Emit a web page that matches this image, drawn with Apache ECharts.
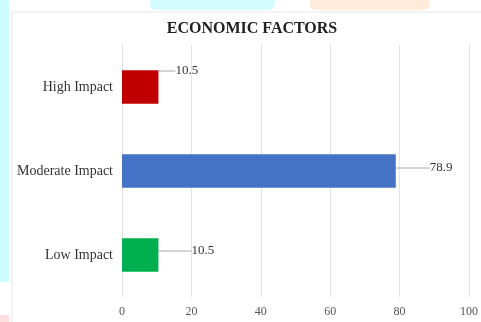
<!DOCTYPE html>
<html>
<head>
<meta charset="utf-8">
<script src="https://cdn.jsdelivr.net/npm/echarts@6/dist/echarts.min.js"></script>
<style>
  html, body { margin: 0; padding: 0; background: #fff; }
  #chart { width: 481px; height: 322px; }
</style>
</head>
<body>
<div id="chart"></div>
<script>
  // 数据
  const categories = ['Low Impact', 'Moderate Impact', 'High Impact']
  const values = [10.5, 78.9, 10.5]
  const barColors = ['#00B050', '#4472C4', '#C00000']
  const xTicks = [0, 20, 40, 60, 80, 100]

  // label offsets (label moved away from bar end, with a guide line)
  const labelShift = [[24, -4], [25, -3], [8, -16]]

  const chart = echarts.init(document.getElementById('chart'))
  const serif = '"Liberation Serif", "DejaVu Serif", serif'

  const option = {
    backgroundColor: '#fff',
    animation: false,
    graphic: [
      // page background bits around the chart frame
      { type: 'rect', left: 0, top: 0, shape: { width: 9, height: 282 }, style: { fill: '#ccfdff' }, silent: true },
      { type: 'rect', left: 150, top: 0, shape: { width: 125, height: 10, r: [0, 0, 6, 6] }, style: { fill: '#d4fcff' }, silent: true },
      { type: 'rect', left: 310, top: 0, shape: { width: 120, height: 10, r: [0, 0, 6, 6] }, style: { fill: '#ffebd9' }, silent: true },
      { type: 'rect', left: 0, top: 315, shape: { width: 9, height: 7 }, style: { fill: '#ffe0e0' }, silent: true },
      { type: 'rect', left: 9.5, top: 9.5, shape: { width: 480, height: 320 }, style: { fill: 'none', stroke: '#e6e6e6', lineWidth: 1 }, silent: true }
    ],
    title: {
      text: 'ECONOMIC FACTORS',
      left: 247,
      top: 16,
      textAlign: 'center',
      textStyle: { fontFamily: serif, fontSize: 16, fontWeight: 'bold', color: '#222' }
    },
    grid: { left: 122, right: 11, top: 45, bottom: 25 },
    xAxis: {
      type: 'value',
      min: xTicks[0],
      max: xTicks[xTicks.length - 1],
      interval: 20,
      axisLine: { show: false },
      axisTick: { show: false },
      splitLine: { lineStyle: { color: '#e3e3e3', width: 1 } },
      axisLabel: { fontFamily: serif, fontSize: 12, color: '#555', margin: 9 }
    },
    yAxis: {
      type: 'category',
      data: categories,
      axisLine: { show: false },
      axisTick: { show: false },
      axisLabel: { fontFamily: serif, fontSize: 14, color: '#333', margin: 9 }
    },
    series: [
      {
        type: 'bar',
        barWidth: '40%',
        data: values.map((v, i) => ({ value: v, itemStyle: { color: barColors[i] } })),
        label: {
          show: true,
          position: 'right',
          distance: 5,
          padding: [0, 0, 0, 4],
          fontFamily: serif,
          fontSize: 13,
          color: '#333'
        },
        labelLine: {
          show: true,
          lineStyle: { color: '#aaa', width: 1 }
        },
        labelLayout: params => ({
          dx: labelShift[params.dataIndex][0],
          dy: labelShift[params.dataIndex][1]
        })
      }
    ]
  }

  chart.setOption(option)
</script>
</body>
</html>
